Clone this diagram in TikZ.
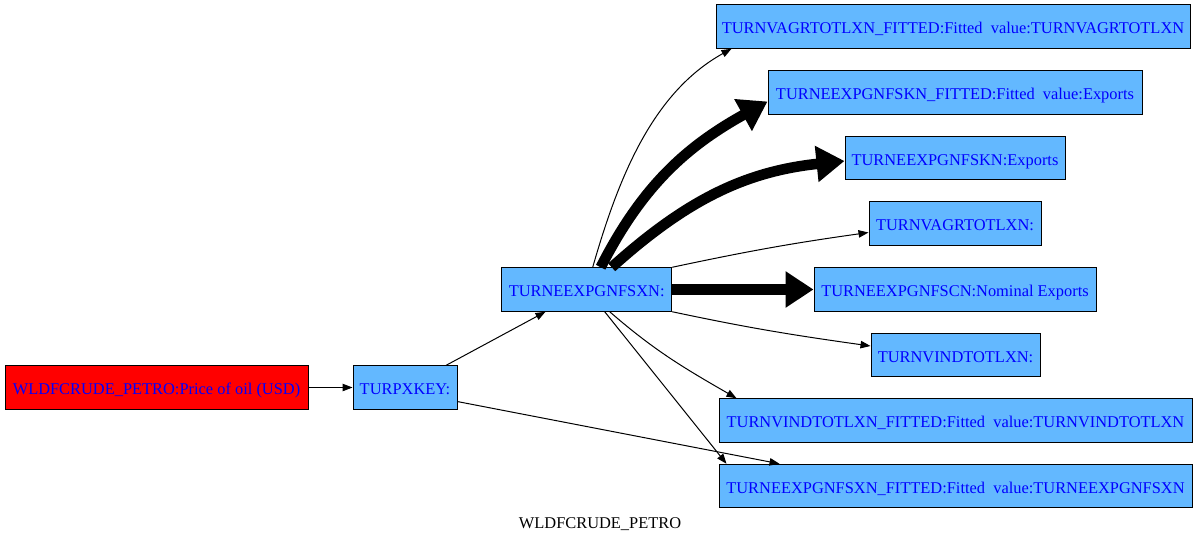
\documentclass[tikz,border=0pt]{standalone}
\usepackage{fontspec}
\setmainfont{Liberation Serif}
\usepackage{xcolor}
\usetikzlibrary{positioning,arrows.meta,calc}

\definecolor{nodeblue}{RGB}{99,184,255}

\begin{document}
\begin{tikzpicture}[
x=0.75pt, y=-0.75pt,
box/.style={
    rectangle,
    draw=black,
    line width=0.75pt,
    fill=nodeblue,
    text=blue,
    inner sep=0pt,
    minimum height=32.6pt,
    text height=11pt,
    text depth=0pt,
    font=\fontsize{12.3}{14}\selectfont
},
line/.style={
    -{Triangle[length=7.5pt,width=5.6pt]},
    line width=0.75pt
},
thickline/.style={
    -{Triangle[length=21pt,width=26pt]},
    line width=7.9pt
}
]
\useasboundingbox (0,0) rectangle (1200,543);

% Left side
\node[box,fill=red,minimum width=227.25pt] (wld) at (156.5,387.5)
{WLDFCRUDE\_PETRO:Price of oil (USD)};

\node[box,minimum width=78pt] (turpx) at (405,387.5) {TURPXKEY:};

\node[box,minimum width=127.5pt] (sxn) at (586.7,289.5) {TURNEEXPGNFSXN:};

% Right column
\node[box,minimum width=355.5pt] (vagf) at (953,26.5)
{TURNVAGRTOTLXN\_FITTED:Fitted\ \ value:TURNVAGRTOTLXN};

\node[box,minimum width=280.5pt] (skf) at (955,92.5)
{TURNEEXPGNFSKN\_FITTED:Fitted\ \ value:Exports};

\node[box,minimum width=165pt] (skn) at (955,158) {TURNEEXPGNFSKN:Exports};

\node[box,minimum width=129pt] (vagr) at (955,223.5) {TURNVAGRTOTLXN:};

\node[box,minimum width=211.5pt] (scn) at (955,289.5)
{TURNEEXPGNFSCN:Nominal Exports};

\node[box,minimum width=126.75pt] (vind) at (955.5,355) {TURNVINDTOTLXN:};

\node[box,minimum width=354.75pt] (vindf) at (955.5,420.5)
{TURNVINDTOTLXN\_FITTED:Fitted\ \ value:TURNVINDTOTLXN};

\node[box,minimum width=354.75pt] (sxnf) at (955.5,486)
{TURNEEXPGNFSXN\_FITTED:Fitted\ \ value:TURNEEXPGNFSXN};

% Title
\node[font=\fontsize{12.3}{14}\selectfont] (title) at (600,524) {WLDFCRUDE\_PETRO};

% Connections
\draw[line] (wld) -- (turpx);
\draw[line] (turpx) -- (sxn);
\draw[line] (turpx.-15) -- ($(sxnf.north west)+(61,0)$);

\draw[line] ($(sxn.north)+(6,0)$) to[out=74,in=209,looseness=0.9] ($(vagf.south west)+(16,0)$);
\draw[thickline] ($(sxn.north)+(14,0)$) to[out=63,in=209] ($(skf.west)+(0,9)$);
\draw[thickline] ($(sxn.north)+(25,0)$) to[out=42,in=186] ($(skn.west)+(0,3)$);
\draw[line] (sxn.north east) to[out=12,in=188] ($(vagr.west)+(0,9)$);
\draw[thickline] (sxn) -- (scn);
\draw[line] (sxn.south east) to[out=-12,in=172] ($(vind.west)+(0,-9)$);
\draw[line] ($(sxn.south)+(23,0)$) to[out=-41,in=150] ($(vindf.north west)+(18,0)$);
\draw[line] ($(sxn.south)+(18,0)$) -- ($(sxnf.north west)+(8,0)$);

\end{tikzpicture}
\end{document}
